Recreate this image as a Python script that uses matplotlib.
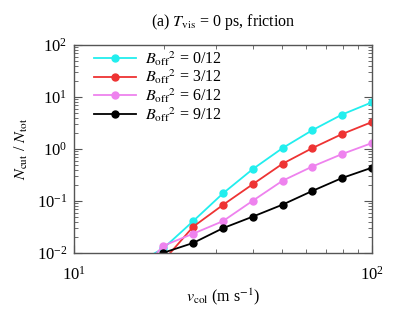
import numpy as np
import matplotlib
matplotlib.use("Agg")
import matplotlib.pyplot as plt
from matplotlib.ticker import NullFormatter, LogLocator

# collision velocity (m/s)
v_col = [15.85, 19.95, 25.12, 31.62, 39.81, 50.12, 63.10, 79.43, 100.0]

# N_cut / N_tot for each B_off^2
ratio_b0 = [0.0058, 0.0123, 0.041, 0.14, 0.41, 1.04, 2.3, 4.6, 7.9]
ratio_b3 = [np.nan, 0.0071, 0.032, 0.084, 0.21, 0.52, 1.04, 1.94, 3.3]
ratio_b6 = [0.0032, 0.0138, 0.0235, 0.041, 0.101, 0.245, 0.46, 0.80, 1.30]
ratio_b9 = [np.nan, 0.0101, 0.0156, 0.030, 0.050, 0.085, 0.156, 0.277, 0.437]

labels = ["0/12", "3/12", "6/12", "9/12"]
colors = ["#22EEEE", "#EE3333", "#EE82EE", "black"]

plt.rcParams['font.family'] = ['Liberation Serif', 'DejaVu Serif']
plt.rcParams['mathtext.fontset'] = 'stix'
plt.rcParams['font.size'] = 11

fig = plt.figure(figsize=(3.99, 3.18), dpi=100)
ax = fig.add_axes([0.1855, 0.2044, 0.7465, 0.6541])

for ys, lab, col in zip([ratio_b0, ratio_b3, ratio_b6, ratio_b9], labels, colors):
    ax.plot(v_col, ys, color=col, marker='o', markersize=5, linewidth=1.3,
            label=r"$B_{\rm off}{}^{2}$ = " + lab)

ax.set_xscale('log')
ax.set_yscale('log')
ax.set_xlim(10, 100)
ax.set_ylim(1e-2, 1e2)
ax.xaxis.set_minor_locator(LogLocator(subs=np.arange(2, 10)))
ax.xaxis.set_minor_formatter(NullFormatter())
ax.yaxis.set_minor_formatter(NullFormatter())

ax.tick_params(which='both', direction='in', top=True, right=True,
               labelsize=12, color='#555555')
ax.tick_params(which='major', length=6)
ax.tick_params(axis='x', which='major', pad=9)
ax.tick_params(axis='y', which='major', pad=5)
ax.tick_params(which='minor', length=3)
for s in ax.spines.values():
    s.set_linewidth(1.0)
    s.set_color('#555555')

ax.set_title(r"(a) $T_{\rm vis}$ = 0 ps, friction", fontsize=11.5, pad=14)
ax.set_xlabel(r"$v_{\rm col}$ (m s$^{-1}$)", fontsize=11.5, labelpad=2)
ax.set_ylabel(r"$N_{\rm cut}$ / $N_{\rm tot}$", fontsize=11.5, labelpad=5)

ax.legend(loc='upper left', bbox_to_anchor=(0.03, 1.035), frameon=False,
          handlelength=2.6, labelspacing=0.0, handletextpad=0.6,
          borderaxespad=0.3, fontsize=11.5)

fig.savefig("out.png", dpi=100)
